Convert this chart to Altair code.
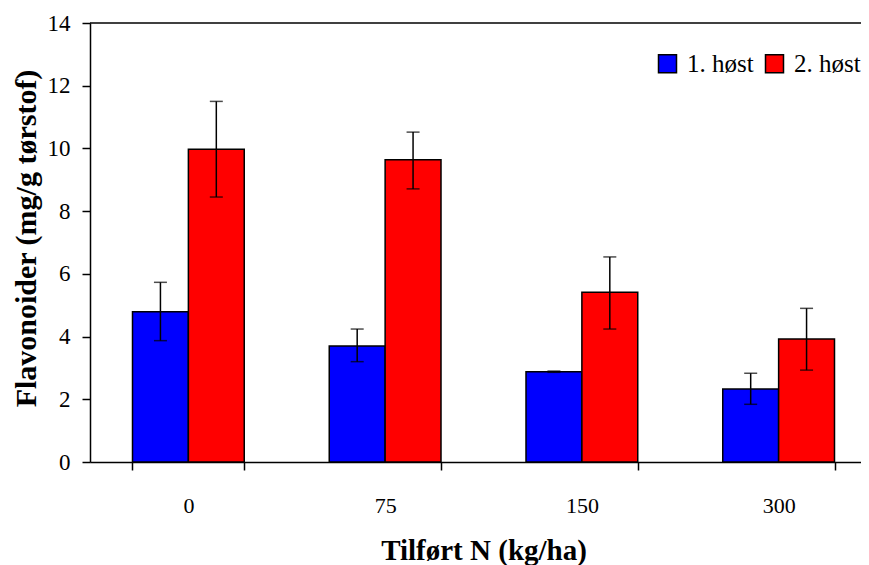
import altair as alt
import pandas as pd

doses = ["0", "75", "150", "300"]
series = ["1. høst", "2. høst"]
h1_mean = [4.79, 3.70, 2.88, 2.33]
h1_low = [3.87, 3.20, 2.86, 1.84]
h1_high = [5.73, 4.24, 2.90, 2.83]
h2_mean = [9.97, 9.64, 5.41, 3.92]
h2_low = [8.45, 8.71, 4.24, 2.93]
h2_high = [11.50, 10.52, 6.54, 4.90]
colors = ["#0000FF", "#FF0000"]
y_ticks = [0, 2, 4, 6, 8, 10, 12, 14]

rows = []
for s, m, lo, hi in [(series[0], h1_mean, h1_low, h1_high),
                     (series[1], h2_mean, h2_low, h2_high)]:
    for d, a, b, c in zip(doses, m, lo, hi):
        rows.append({"dose": d, "serie": s, "value": a, "low": b, "high": c})
df = pd.DataFrame(rows)

FONT = "Liberation Serif"

def xenc():
    return alt.X("dose:N", sort=doses,
                 scale=alt.Scale(range=[0, 787], paddingInner=0.432, paddingOuter=0.216),
                 axis=alt.Axis(title="Tilført N (kg/ha)", labelAngle=0, tickBand="extent",
                               labelPadding=42, labelBaseline="alphabetic", labelFontSize=22,
                               titleFontSize=29, titleY=97, titleBaseline="alphabetic"))

def xoff():
    return alt.XOffset("serie:N", sort=series,
                       scale=alt.Scale(paddingInner=0, paddingOuter=0))

def yenc(field):
    return alt.Y(field, scale=alt.Scale(domain=[0, 14], nice=False),
                 axis=alt.Axis(title="Flavonoider (mg/g tørstof)", values=y_ticks,
                               labelPadding=12, labelFontSize=23, titleFontSize=30,
                               titleX=-55, titleY=215, titleAlign="center",
                               titleBaseline="alphabetic"))

bars = alt.Chart(df).mark_bar(stroke="black", strokeWidth=1.5).encode(
    x=xenc(), xOffset=xoff(), y=yenc("value:Q"),
    color=alt.Color("serie:N", sort=series,
                    scale=alt.Scale(domain=series, range=colors),
                    legend=alt.Legend(title=None, orient="none", legendX=565, legendY=28,
                                      direction="horizontal", symbolType="square",
                                      symbolSize=324, symbolStrokeColor="black",
                                      symbolStrokeWidth=1.5, labelFontSize=25,
                                      labelFont=FONT, labelColor="black", labelOffset=7,
                                      columnPadding=8, padding=0)),
)

rules = alt.Chart(df).mark_rule(color="black", strokeWidth=1.5).encode(
    x=xenc(), xOffset=xoff(), y=yenc("low:Q"), y2="high:Q")

caps_lo = alt.Chart(df).mark_tick(color="black", size=13, thickness=1.5,
                                  orient="horizontal").encode(
    x=xenc(), xOffset=xoff(), y=yenc("low:Q"))
caps_hi = alt.Chart(df).mark_tick(color="black", size=13, thickness=1.5,
                                  orient="horizontal").encode(
    x=xenc(), xOffset=xoff(), y=yenc("high:Q"))

frame_top = alt.Chart(pd.DataFrame({"k": [0]})).mark_rule(
    color="black", strokeWidth=1.5).encode(
    x=alt.value(0), x2=alt.value(787), y=alt.value(0))

chart = alt.layer(bars, rules, caps_lo, caps_hi, frame_top).properties(
    width=771, height=439,
    autosize=alt.AutoSizeParams(type="none"),
    padding={"left": 82, "top": 15, "right": 0, "bottom": 103},
).configure_axis(
    labelFont=FONT, titleFont=FONT,
    titleFontWeight="bold", labelColor="black", titleColor="black",
    domainColor="black", tickColor="black", domainWidth=1.5, tickWidth=1.5,
    tickSize=8, grid=False,
).configure_view(stroke="transparent", strokeWidth=0)

chart.save("out.html", embed_options={"renderer": "svg", "actions": False})
